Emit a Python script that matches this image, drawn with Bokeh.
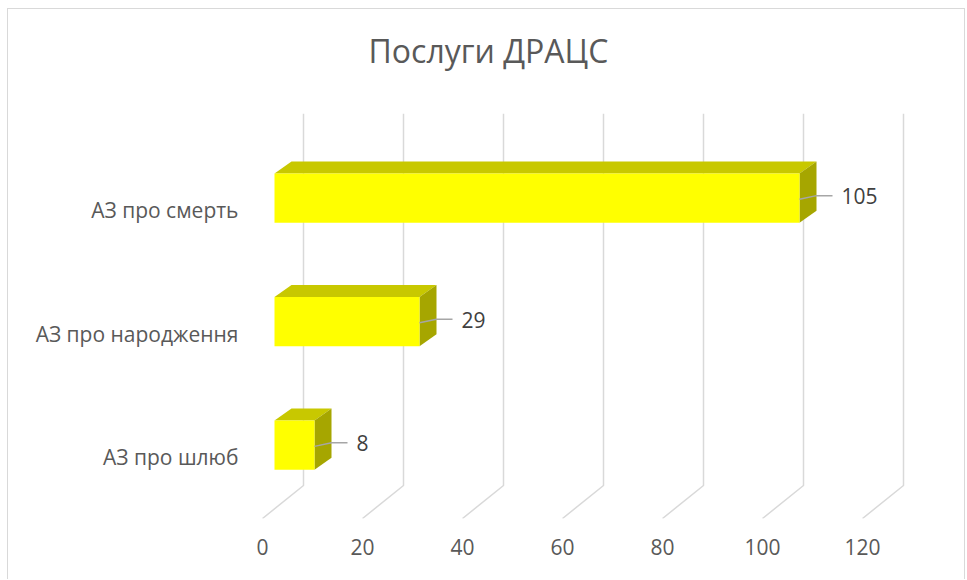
import numpy as np
from bokeh.plotting import figure
from bokeh.models import Range1d, FixedTicker, ColumnDataSource, Title
from bokeh.embed import file_html
from bokeh.resources import INLINE
from bokeh.core.properties import value

# ---- data ----
categories = ["АЗ про шлюб", "АЗ про народження", "АЗ про смерть"]
values = [8, 29, 105]
x_ticks = [0, 20, 40, 60, 80, 100, 120]
title_text = "Послуги ДРАЦС"

FONT = "Open Sans"
idx = np.arange(len(categories), dtype=float)
vals = np.array(values, dtype=float)

# 3D look parameters (data units)
bar_x0 = 2.4
bar_lo, bar_hi = -0.1, 0.3
depth_x, depth_y = 3.4, 0.097
wall_x, wall_y = 8.2, 0.267

y0, y1 = -0.494, 2.785
p = figure(width=958, height=571,
           x_range=Range1d(-2.4, 139.2), y_range=Range1d(y0, y1),
           output_backend="svg", toolbar_location=None,
           min_border_left=242, min_border_right=8,
           min_border_top=104, min_border_bottom=62)
p.styles = {"margin-left": "7px", "margin-top": "8px",
            "border-left": "1px solid #D9D9D9",
            "border-top": "1px solid #D9D9D9",
            "border-right": "1px solid #D9D9D9"}
p.background_fill_color = "white"
p.border_fill_color = "white"
p.outline_line_color = None
p.xgrid.visible = False
p.ygrid.visible = False

# back-wall gridlines with floor diagonals
gx = [[t + wall_x, t + wall_x, t] for t in x_ticks]
gy = [[y1, y0 + wall_y, y0] for t in x_ticks]
p.multi_line(gx, gy, line_color="#D9D9D9", line_width=1.5)

# bars
front_l = np.full_like(vals, bar_x0)
front_r = bar_x0 + vals
bot = idx + bar_lo
top = idx + bar_hi

top_xs = [[l, r, r + depth_x, l + depth_x] for l, r in zip(front_l, front_r)]
top_ys = [[t, t, t + depth_y, t + depth_y] for t in top]
p.patches(top_xs, top_ys, fill_color="#C8C800", line_color=None)

side_xs = [[r, r + depth_x, r + depth_x, r] for r in front_r]
side_ys = [[b, b + depth_y, t + depth_y, t] for b, t in zip(bot, top)]
p.patches(side_xs, side_ys, fill_color="#A6A600", line_color=None)

p.quad(left=front_l, right=front_r, bottom=bot, top=top,
       fill_color="#FFFF00", line_color=None)

# leader lines and data labels
lx = [[r, r + depth_x, r + 6.6] for r in front_r]
ly = [[i + 0.09, i + 0.12, i + 0.12] for i in idx]
p.multi_line(lx, ly, line_color="#A6A6A6", line_width=1.5)

src = ColumnDataSource(dict(x=front_r + 8.4, y=idx + 0.115,
                            t=[str(v) for v in values]))
p.text(x="x", y="y", text="t", source=src, text_font=value(FONT),
       text_font_size="21px", text_color="#404040",
       text_baseline="middle", text_align="left")

# axes
for ax in (p.xaxis[0], p.yaxis[0]):
    ax.axis_line_color = None
    ax.major_tick_line_color = None
    ax.minor_tick_line_color = None
    ax.major_tick_out = 0
    ax.major_tick_in = 0
    ax.major_label_text_font = FONT
    ax.major_label_text_font_size = "21px"
    ax.major_label_text_color = "#595959"

p.xaxis.ticker = FixedTicker(ticks=x_ticks)
p.xaxis.major_label_standoff = 20
p.yaxis.ticker = FixedTicker(ticks=list(idx))
p.yaxis.major_label_overrides = {int(i): c for i, c in zip(idx, categories)}
p.yaxis.major_label_standoff = 12

# chart title, with an empty spacer panel between it and the plot area
spacer = Title(text=" ", text_font=FONT, text_font_size="10px", standoff=21)
chart_title = Title(text=title_text, align="left", offset=118,
                    text_font=FONT, text_font_size="32px",
                    text_font_style="normal", text_color="#595959",
                    standoff=10)
p.add_layout(spacer, "above")
p.add_layout(chart_title, "above")

open("out.html", "w").write(file_html(p, INLINE))
